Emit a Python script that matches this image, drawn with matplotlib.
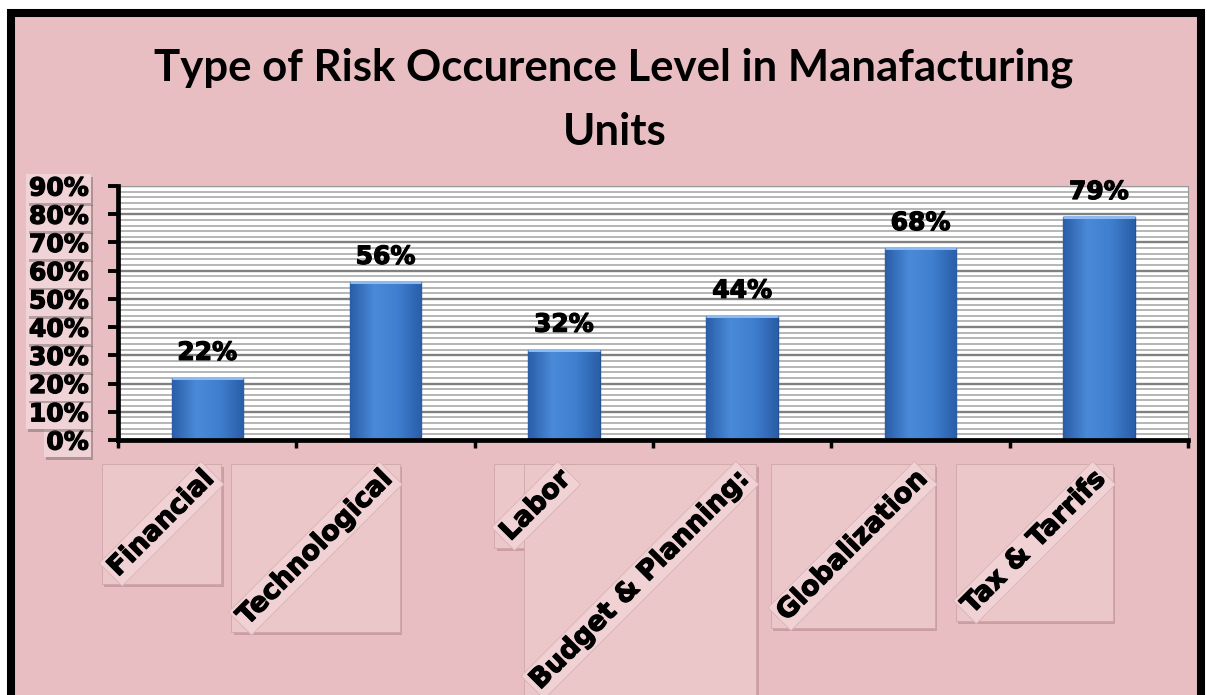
import numpy as np
import matplotlib
matplotlib.use("Agg")
import matplotlib.pyplot as plt
import matplotlib.patheffects as pe
from matplotlib.patches import Rectangle
from matplotlib.colors import LinearSegmentedColormap
from matplotlib.ticker import MultipleLocator, FuncFormatter

# data
categories = ["Financial", "Technological", "Labor", "Budget & Planning:",
              "Globalization", "Tax & Tarrifs"]
values = [22, 56, 32, 44, 68, 79]   # percent
y_ticks = [0, 10, 20, 30, 40, 50, 60, 70, 80, 90]
title_lines = ["Type of Risk Occurence Level in Manafacturing", "Units"]

W, H = 1207, 695
pink = "#e8bec2"
heavy = [pe.withStroke(linewidth=0.9, foreground="black")]

fig = plt.figure(figsize=(W / 100, H / 100), dpi=100, facecolor="white")

# pink panel with thick black frame (no bottom edge visible)
frame = Rectangle((11 / W, -0.05), (1201 - 11) / W, 1 - 13 / H + 0.05,
                  transform=fig.transFigure, facecolor=pink, edgecolor="black",
                  linewidth=5.8, zorder=-2)
fig.patches.append(frame)

ax = fig.add_axes([118 / W, 1 - 440 / H, (1188 - 118) / W, (440 - 186) / H])
ax.set_facecolor("white")

x = np.arange(len(categories))
bars = ax.bar(x, values, width=0.4, color="#3a78c6", edgecolor="#24528f",
              linewidth=1.0, zorder=3)

# shaded look for the bars
cmap = LinearSegmentedColormap.from_list("bar", ["#2a5ea8", "#4a8ad8", "#3f7fcf", "#2a5ea8"])
grad = np.linspace(0, 1, 64).reshape(1, -1)
for b in bars:
    im = ax.imshow(grad, cmap=cmap, aspect="auto", zorder=3.5,
                   extent=(b.get_x(), b.get_x() + b.get_width(), 0, b.get_height()))
    im.set_clip_path(b)
    ax.plot([b.get_x(), b.get_x() + b.get_width()], [b.get_height()] * 2,
            color="#8dbbf0", lw=2.2, zorder=4, solid_capstyle="butt")

for b, v in zip(bars, values):
    ax.annotate(f"{v}%", (b.get_x() + b.get_width() / 2, b.get_height()),
                xytext=(0, 13), textcoords="offset points", ha="center",
                va="baseline", fontsize=18, fontweight="bold", zorder=5,
                path_effects=heavy)

ax.set_xlim(-0.5, len(categories) - 0.5)
ax.set_ylim(0, 90)
ax.set_yticks(y_ticks)
ax.yaxis.set_minor_locator(MultipleLocator(2))
ax.yaxis.set_major_formatter(FuncFormatter(lambda v, p: f"{v:.0f}%"))
ax.grid(which="minor", axis="y", color="#b0b0b0", lw=1.3, zorder=0)
ax.grid(which="major", axis="y", color="#808080", lw=1.7, zorder=0)
ax.set_axisbelow(True)

ax.set_xticks(np.arange(-0.5, len(categories), 1.0))
ax.set_xticklabels([])
ax.tick_params(axis="x", which="major", direction="out", length=6, width=2.5,
               color="black")
ax.tick_params(axis="y", which="major", direction="out", length=7, width=2.8,
               color="black", pad=14, labelsize=18)
ax.tick_params(axis="y", which="minor", length=0)
for t in ax.get_yticklabels():
    t.set_fontweight("bold")
    t.set_path_effects(heavy)
    t.set_bbox(dict(boxstyle="square,pad=0.1", fc="#f0d3d6", ec="none"))
    t.get_bbox_patch().set_path_effects(
        [pe.SimplePatchShadow(offset=(1.5, -2), alpha=0.35), pe.Normal()])

for s in ["left", "bottom"]:
    ax.spines[s].set_linewidth(3.4)
    ax.spines[s].set_color("black")
    ax.spines[s].set_zorder(6)
for s in ["top", "right"]:
    ax.spines[s].set_linewidth(0.8)
    ax.spines[s].set_color("#9a9a9a")

# rotated category labels
labels = []
for i, c in enumerate(categories):
    t = ax.text(i - 0.035, -26 / 254, c, transform=ax.get_xaxis_transform(),
                rotation=45, rotation_mode="anchor", ha="right", va="top",
                fontsize=19.5, fontweight="bold", clip_on=False, zorder=6,
                path_effects=heavy,
                bbox=dict(boxstyle="square,pad=0.12", fc="#f0d2d5", ec="#d9b2b6",
                          lw=0.6))
    labels.append(t)

fig.canvas.draw()
inv = fig.transFigure.inverted()
for t in labels:
    bb = t.get_window_extent()
    (x0, y0), (x1, y1) = inv.transform([[bb.x0 - 2, bb.y0 - 2], [bb.x1 + 2, bb.y1 + 2]])
    fig.patches.append(Rectangle((x0 + 2.5 / W, y0 - 3 / H), x1 - x0, y1 - y0,
                                 transform=fig.transFigure, fc="#a8797e",
                                 ec="none", alpha=0.45, zorder=-1.2))
    fig.patches.append(Rectangle((x0, y0), x1 - x0, y1 - y0,
                                 transform=fig.transFigure, fc="#ebc7ca",
                                 ec="#cfa7ab", lw=0.6, zorder=-1))

fig.text(614 / W, 1 - 80 / H, title_lines[0], ha="center", va="baseline",
         fontsize=31.5, fontweight="bold", family="Lato")
fig.text(615 / W, 1 - 145 / H, title_lines[1], ha="center", va="baseline",
         fontsize=31.5, fontweight="bold", family="Lato")

fig.savefig("out.png", dpi=100, facecolor="white")
